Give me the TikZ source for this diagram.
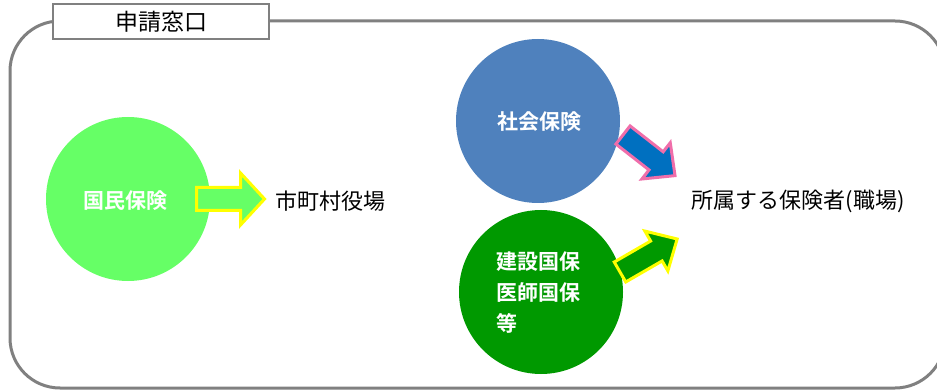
\documentclass[tikz,border=0pt]{standalone}
\usepackage{fontspec}
\newfontfamily\cjk{Noto Sans CJK JP}
\newfontfamily\cjkb{Noto Sans CJK JP Bold}
\definecolor{frameGray}{HTML}{808080}
\definecolor{lightGreen}{HTML}{66FF66}
\definecolor{steelBlue}{HTML}{4F81BD}
\definecolor{darkGreen}{HTML}{009900}
\definecolor{arrowBlue}{HTML}{0070C0}
\definecolor{pinkEdge}{HTML}{F06EAA}
\definecolor{brightYellow}{HTML}{FFFF00}
\tikzset{
  circ/.style={circle, minimum size=164pt, inner sep=0pt, draw=none},
  circtext/.style={text=white, font=\cjkb\fontsize{21}{31}\selectfont, align=left, inner sep=0pt},
  plaintext/.style={text=black, font=\cjk\fontsize{22}{26}\selectfont, inner sep=0pt},
  bigarrow/.style={line width=3pt, line join=miter},
}
\begin{document}
\begin{tikzpicture}[x=1pt,y=-1pt]
\useasboundingbox (0,0) rectangle (937,390);
\begin{scope}
\clip (0,0) rectangle (937,390);
\draw[frameGray, line width=3pt, rounded corners=50pt] (10,21) rectangle (945,388);
\end{scope}
\node[draw=frameGray, line width=2pt, fill=white, minimum width=216pt, minimum height=35pt, inner sep=0pt,
  font=\cjk\fontsize{23}{26}\selectfont] (title) at (161,22) {申請窓口};

\node[circ, fill=lightGreen] (kokumin) at (128,199) {};
\node[circtext] (kokuminT) at (125,201) {国民保険};
\node[circ, fill=steelBlue] (shakai) at (538,121) {};
\node[circtext] (shakaiT) at (539,122) {社会保険};
\node[circ, fill=darkGreen] (kensetsu) at (541,292) {};
\node[circtext, anchor=west] (kensetsuT) at (496,293) {建設国保\\医師国保\\等};

\node[plaintext] (shichoson) at (330,201) {市町村役場};
\node[plaintext] (shozoku) at (798,201) {所属する保険者(職場)};

\draw[bigarrow, draw=brightYellow, fill=lightGreen, shift={(196.5,199)}]
  (0,-11.5) -- (44,-11.5) -- (44,-26) -- (68,0) -- (44,26) -- (44,11.5) -- (0,11.5) -- cycle;
\draw[bigarrow, draw=pinkEdge, fill=arrowBlue, shift={(623,135)}, rotate=-38]
  (0,-11.5) -- (42,-11.5) -- (42,-23) -- (66,0) -- (42,23) -- (42,11.5) -- (0,11.5) -- cycle;
\draw[bigarrow, draw=brightYellow, fill=darkGreen, shift={(620,272)}, rotate=30]
  (0,-11.5) -- (42,-11.5) -- (42,-23) -- (66,0) -- (42,23) -- (42,11.5) -- (0,11.5) -- cycle;
\end{tikzpicture}
\end{document}
